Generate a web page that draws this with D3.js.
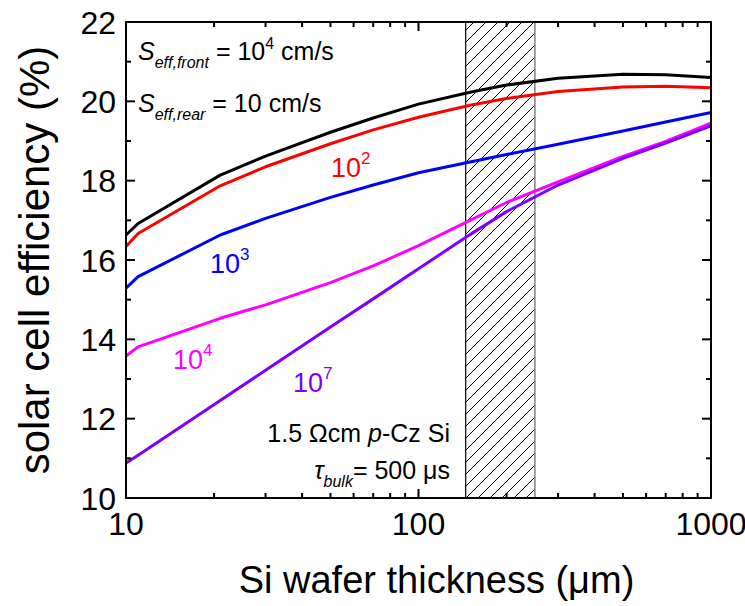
<!DOCTYPE html>
<html>
<head>
<meta charset="utf-8">
<script src="https://cdn.jsdelivr.net/npm/d3@7"></script>
<style>
  body { margin: 0; background: #fff; }
  svg { font-family: "Liberation Sans", Arial, sans-serif; }
</style>
</head>
<body>
<svg id="chart" width="745" height="606"></svg>
<script>
// wafer thickness (um) and efficiency (%) for each rear surface recombination velocity
const thickness = [10, 11, 21, 30, 50, 70, 100, 150, 200, 300, 500, 700, 1000];
const rear10  = [16.63, 16.92, 18.14, 18.62, 19.22, 19.58, 19.93, 20.23, 20.41, 20.58, 20.68, 20.67, 20.60];
const rear1e2 = [16.34, 16.67, 17.87, 18.35, 18.93, 19.28, 19.60, 19.90, 20.07, 20.25, 20.36, 20.38, 20.34];
const rear1e3 = [15.29, 15.58, 16.63, 17.05, 17.58, 17.89, 18.20, 18.47, 18.66, 18.92, 19.25, 19.48, 19.72];
const rear1e4 = [13.58, 13.81, 14.53, 14.87, 15.43, 15.85, 16.36, 17.00, 17.45, 17.97, 18.61, 18.99, 19.45];
const rear1e7 = [10.88, 11.08, 12.46, 13.22, 14.31, 15.02, 15.78, 16.64, 17.22, 17.89, 18.56, 18.95, 19.38];

const seriesColors = ['#000000', '#ff0000', '#0000ff', '#ff00ff', '#7f00ff'];
const seriesLabels = ['', '2', '3', '4', '7']; // exponent of 10
const hatchRange = [145, 250];

const xMajor = [10, 100, 1000];
const xMinor = [20, 30, 40, 50, 60, 70, 80, 90, 200, 300, 400, 500, 600, 700, 800, 900];
const yMajor = [10, 12, 14, 16, 18, 20, 22];
const yMinor = [11, 13, 15, 17, 19, 21];

const margin = { top: 22, right: 34, bottom: 108, left: 126 };
const W = 745, H = 606;
const w = W - margin.left - margin.right;
const h = H - margin.top - margin.bottom;

const svg = d3.select('#chart');
const g = svg.append('g').attr('transform', `translate(${margin.left},${margin.top})`);

const x = d3.scaleLog().domain([10, 1000]).range([0, w]);
const y = d3.scaleLinear().domain([10, 22]).range([h, 0]);

// hatch pattern
const defs = svg.append('defs');
const pat = defs.append('pattern')
  .attr('id', 'hatch')
  .attr('patternUnits', 'userSpaceOnUse')
  .attr('width', 12).attr('height', 12);
pat.append('path')
  .attr('d', 'M0,12 L12,0 M-3,3 L3,-3 M9,15 L15,9')
  .attr('stroke', '#000').attr('stroke-width', 1);

g.append('rect')
  .attr('x', x(hatchRange[0]))
  .attr('y', 0)
  .attr('width', x(hatchRange[1]) - x(hatchRange[0]))
  .attr('height', h)
  .attr('fill', 'url(#hatch)');
g.append('line')
  .attr('x1', x(hatchRange[0])).attr('x2', x(hatchRange[0]))
  .attr('y1', 0).attr('y2', h)
  .attr('stroke', '#000').attr('stroke-width', 1.2);
g.append('line')
  .attr('x1', x(hatchRange[1])).attr('x2', x(hatchRange[1]))
  .attr('y1', 0).attr('y2', h)
  .attr('stroke', '#808080').attr('stroke-width', 1.5);

// curves
const allSeries = [rear10, rear1e2, rear1e3, rear1e4, rear1e7];
const line = d3.line()
  .x((d, i) => x(thickness[i]))
  .y(d => y(d));

g.selectAll('.curve')
  .data(allSeries)
  .enter()
  .append('path')
  .attr('class', 'curve')
  .attr('d', d => line(d))
  .attr('fill', 'none')
  .attr('stroke', (d, i) => seriesColors[i])
  .attr('stroke-width', 3)
  .attr('stroke-linejoin', 'round');

// frame and inward ticks on all four sides
g.append('rect')
  .attr('width', w).attr('height', h)
  .attr('fill', 'none').attr('stroke', '#000').attr('stroke-width', 2);

const tickG = g.append('g').attr('stroke', '#000').attr('stroke-width', 2);
function xTicks(vals, len) {
  vals.forEach(v => {
    tickG.append('line').attr('x1', x(v)).attr('x2', x(v)).attr('y1', h).attr('y2', h - len);
    tickG.append('line').attr('x1', x(v)).attr('x2', x(v)).attr('y1', 0).attr('y2', len);
  });
}
function yTicks(vals, len) {
  vals.forEach(v => {
    tickG.append('line').attr('x1', 0).attr('x2', len).attr('y1', y(v)).attr('y2', y(v));
    tickG.append('line').attr('x1', w).attr('x2', w - len).attr('y1', y(v)).attr('y2', y(v));
  });
}
xTicks(xMajor, 9); xTicks(xMinor, 5);
yTicks(yMajor, 9); yTicks(yMinor, 5);

// tick labels
g.selectAll('.xlab')
  .data(xMajor)
  .enter()
  .append('text')
  .attr('x', d => x(d))
  .attr('y', h + 37)
  .attr('text-anchor', 'middle')
  .style('font-size', '32px')
  .text(d => d);

g.selectAll('.ylab')
  .data(yMajor)
  .enter()
  .append('text')
  .attr('x', -10)
  .attr('y', d => y(d) + 11.5)
  .attr('text-anchor', 'end')
  .style('font-size', '32px')
  .text(d => d);

// axis titles
svg.append('text')
  .attr('x', margin.left + w / 2 + 18)
  .attr('y', 593)
  .attr('text-anchor', 'middle')
  .style('font-size', '38px')
  .text('Si wafer thickness (\u03bcm)');

svg.append('text')
  .attr('transform', `translate(49,${margin.top + h / 2}) rotate(-90)`)
  .attr('text-anchor', 'middle')
  .style('font-size', '42px')
  .text('solar cell efficiency (%)');

// annotations
function sText(px, py, sub, value, sup) {
  const t = svg.append('text').attr('x', px).attr('y', py).style('font-size', '25px');
  t.append('tspan').style('font-style', 'italic').text('S');
  t.append('tspan').style('font-style', 'italic').style('font-size', '16px').attr('dy', 8).text(sub);
  t.append('tspan').attr('dy', -8).text(' = ' + value);
  if (sup) {
    t.append('tspan').style('font-size', '16px').attr('dy', -11).text(sup);
    t.append('tspan').attr('dy', 11).text(' cm/s');
  } else {
    t.append('tspan').text(' cm/s');
  }
}
sText(138, 60, 'eff,front', '10', '4');
sText(138, 112, 'eff,rear', '10', '');

const labelPos = [null, [331, 177], [210, 273], [173, 369], [293, 392]];
labelPos.forEach((p, i) => {
  if (!p) return;
  const t = svg.append('text').attr('x', p[0]).attr('y', p[1])
    .style('font-size', '27px').attr('fill', seriesColors[i]);
  t.append('tspan').text('10');
  t.append('tspan').style('font-size', '17px').attr('dy', -13).text(seriesLabels[i]);
});

const a1 = svg.append('text').attr('x', 450).attr('y', 442)
  .attr('text-anchor', 'end').style('font-size', '25px');
a1.append('tspan').text('1.5 \u03a9cm ');
a1.append('tspan').style('font-style', 'italic').text('p');
a1.append('tspan').text('-Cz Si');

const a2 = svg.append('text').attr('x', 450).attr('y', 479)
  .attr('text-anchor', 'end').style('font-size', '25px');
a2.append('tspan').style('font-style', 'italic').text('\u03c4');
a2.append('tspan').style('font-style', 'italic').style('font-size', '16px').attr('dy', 8).text('bulk');
a2.append('tspan').attr('dy', -8).text('= 500 \u03bcs');
</script>
</body>
</html>
